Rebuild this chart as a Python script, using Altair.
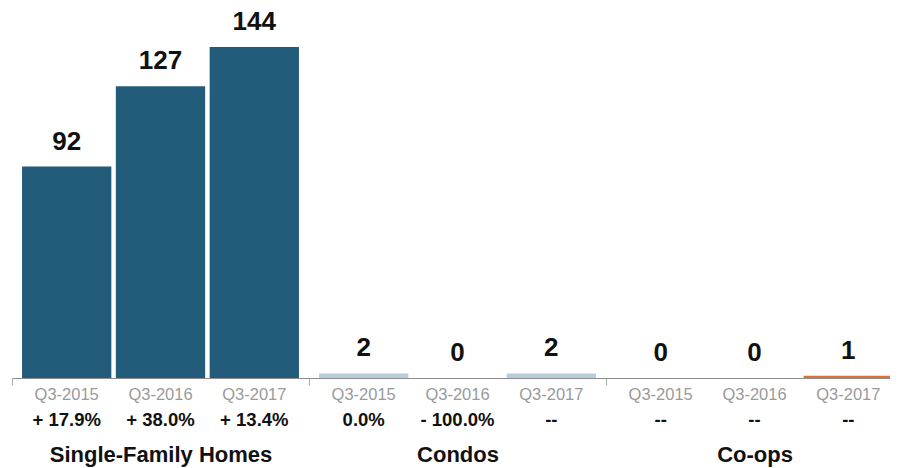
import altair as alt
import pandas as pd

groups = ["Single-Family Homes", "Condos", "Co-ops"]
periods = ["Q3-2015", "Q3-2016", "Q3-2017"]
sfh_values = [92, 127, 144]
condo_values = [2, 0, 2]
coop_values = [0, 0, 1]
sfh_changes = ["+ 17.9%", "+ 38.0%", "+ 13.4%"]
condo_changes = ["0.0%", "- 100.0%", "--"]
coop_changes = ["--", "--", "--"]
group_colors = ["#235b7b", "#b7ced8", "#da7436"]

rows = []
for g, vals, chg in [
    (groups[0], sfh_values, sfh_changes),
    (groups[1], condo_values, condo_changes),
    (groups[2], coop_values, coop_changes),
]:
    for p, v, c in zip(periods, vals, chg):
        rows.append({"group": g, "period": p, "value": v, "change": c, "base": 0})
df = pd.DataFrame(rows)

FONT = "Liberation Sans"
GROUP_SPAN = 891  # three groups of ~297px; the last runs past the visible edge

x = alt.X(
    "group:N",
    sort=groups,
    title=None,
    scale=alt.Scale(paddingInner=0, paddingOuter=0, range=[0, GROUP_SPAN]),
    axis=alt.Axis(
        tickBand="extent",
        tickSize=7,
        tickColor="#aaaaaa",
        domainColor="#8c8c8c",
        domainWidth=1,
        labelFont=FONT,
        labelFontSize=22,
        labelFontWeight="bold",
        labelColor="#111111",
        labelPadding=59,
        labelLimit=400,
        labelAngle=0,
    ),
)
xo = alt.XOffset(
    "period:N",
    sort=periods,
    scale=alt.Scale(paddingInner=0.048, paddingOuter=0.107),
)
yscale = alt.Scale(domain=[0, 161])

base = alt.Chart(df)

bars = base.mark_bar().encode(
    x=x,
    xOffset=xo,
    y=alt.Y("value:Q", scale=yscale, axis=None),
    color=alt.Color("group:N", scale=alt.Scale(domain=groups, range=group_colors), legend=None),
)

values = base.mark_text(
    font=FONT, fontSize=26, fontWeight="bold", color="#111111",
    baseline="alphabetic", dy=-17,
).encode(
    x=x, xOffset=xo,
    y=alt.Y("value:Q", scale=yscale, axis=None),
    text="value:Q",
)

period_labels = base.mark_text(
    font=FONT, fontSize=16.5, color="#9a9a9a", baseline="alphabetic", dy=22,
).encode(
    x=x, xOffset=xo,
    y=alt.Y("base:Q", scale=yscale, axis=None),
    text="period:N",
)

change_labels = base.mark_text(
    font=FONT, fontSize=18.5, fontWeight="bold", color="#111111",
    baseline="alphabetic", dy=48,
).encode(
    x=x, xOffset=xo,
    y=alt.Y("base:Q", scale=yscale, axis=None),
    text="change:N",
)

chart = (
    alt.layer(bars, values, period_labels, change_labels)
    .properties(
        width=878,
        height=370,
        padding={"left": 4, "top": 0, "right": 0, "bottom": 90},
        autosize=alt.AutoSizeParams(type="none"),
    )
    .configure_view(stroke=None)
)

chart.save("out.html", embed_options={"renderer": "svg", "actions": False})
